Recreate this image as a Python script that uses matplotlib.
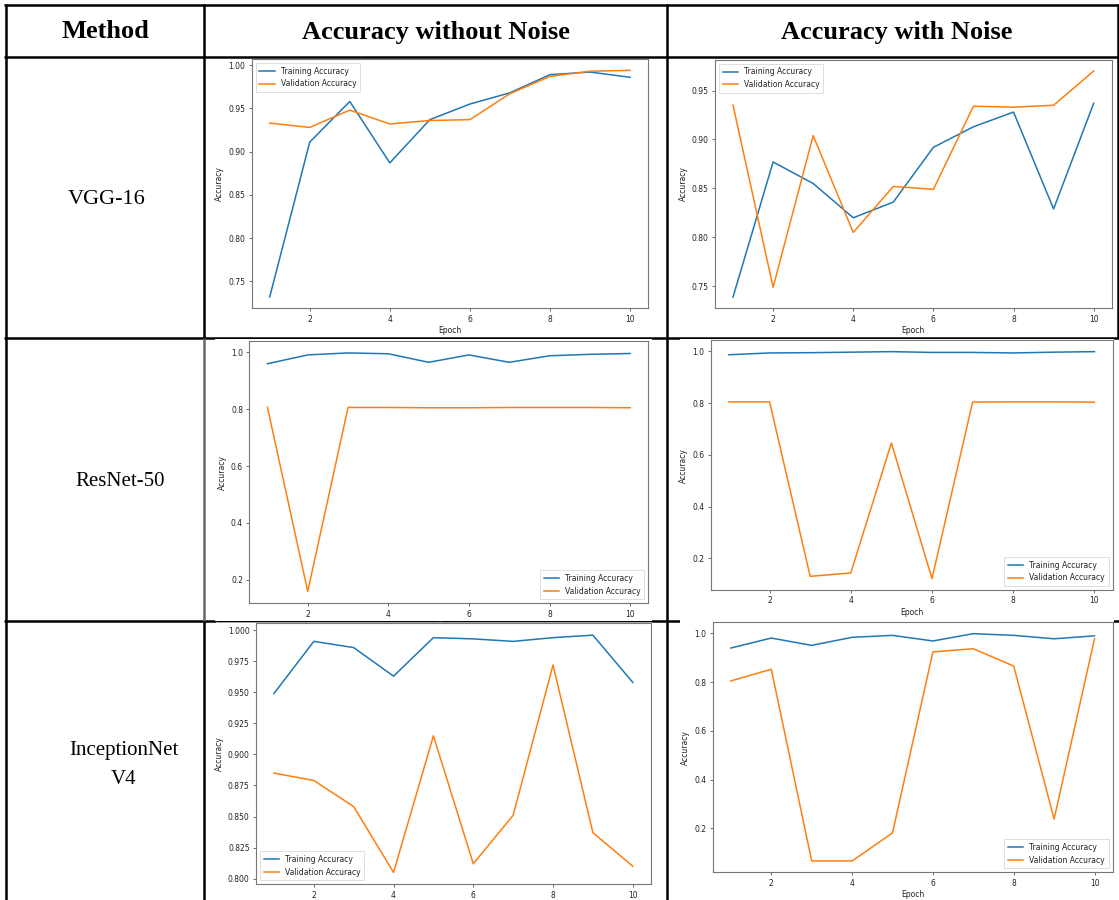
import matplotlib
matplotlib.use("Agg")
from matplotlib import pyplot as plt
from matplotlib.lines import Line2D
from matplotlib.patches import Rectangle

W, H = 1119, 900

epochs = list(range(1, 11))

# accuracy per epoch
vgg_clean_train = [0.732, 0.911, 0.958, 0.887, 0.937, 0.955, 0.968, 0.989, 0.992, 0.986]
vgg_clean_val = [0.933, 0.928, 0.948, 0.932, 0.936, 0.937, 0.967, 0.987, 0.993, 0.994]
vgg_noise_train = [0.739, 0.877, 0.855, 0.820, 0.836, 0.892, 0.913, 0.928, 0.829, 0.937]
vgg_noise_val = [0.935, 0.749, 0.904, 0.805, 0.852, 0.849, 0.934, 0.933, 0.935, 0.970]

resnet_clean_train = [0.960, 0.991, 0.998, 0.995, 0.965, 0.991, 0.965, 0.988, 0.993, 0.996]
resnet_clean_val = [0.807, 0.159, 0.806, 0.806, 0.805, 0.805, 0.806, 0.806, 0.806, 0.805]
resnet_noise_train = [0.987, 0.994, 0.995, 0.997, 0.999, 0.996, 0.996, 0.994, 0.997, 0.999]
resnet_noise_val = [0.805, 0.805, 0.131, 0.144, 0.646, 0.122, 0.804, 0.805, 0.805, 0.804]

incep_clean_train = [0.949, 0.991, 0.986, 0.963, 0.994, 0.993, 0.991, 0.994, 0.996, 0.958]
incep_clean_val = [0.885, 0.879, 0.858, 0.805, 0.915, 0.812, 0.851, 0.972, 0.837, 0.810]
incep_noise_train = [0.940, 0.981, 0.951, 0.984, 0.992, 0.969, 0.999, 0.992, 0.978, 0.990]
incep_noise_val = [0.805, 0.853, 0.066, 0.066, 0.181, 0.924, 0.937, 0.866, 0.238, 0.978]

xticks = [2, 4, 6, 8, 10]
yticks_vgg_clean = [0.75, 0.80, 0.85, 0.90, 0.95, 1.00]
yticks_vgg_noise = [0.75, 0.80, 0.85, 0.90, 0.95]
yticks_wide = [0.2, 0.4, 0.6, 0.8, 1.0]
yticks_incep_clean = [0.800, 0.825, 0.850, 0.875, 0.900, 0.925, 0.950, 0.975, 1.000]

headers = ["Method", "Accuracy without Noise", "Accuracy with Noise"]
methods = ["VGG-16", "ResNet-50", "InceptionNet", "V4"]


def fx(x):
    return x / W


def fy(y):
    return 1 - y / H


fig = plt.figure(figsize=(W / 100, H / 100), dpi=100)


def hline(y, x0, x1, z=1, color="black", lw=1.8):
    fig.add_artist(Line2D([fx(x0), fx(x1)], [fy(y), fy(y)], transform=fig.transFigure,
                          color=color, lw=lw, zorder=z, solid_capstyle="butt"))


def vline(x, y0, y1, z=1, color="black", lw=1.8):
    fig.add_artist(Line2D([fx(x), fx(x)], [fy(y0), fy(y1)], transform=fig.transFigure,
                          color=color, lw=lw, zorder=z, solid_capstyle="butt"))


def blank(x0, y0, x1, y1, z):
    # white background of a pasted screenshot
    fig.add_artist(Rectangle((fx(x0), fy(y1)), (x1 - x0) / W, (y1 - y0) / H,
                             transform=fig.transFigure, facecolor="white",
                             edgecolor="none", zorder=z))


# table grid
hline(5, 4, 1119)
hline(57, 4, 1119)
hline(338, 4, 1119)
hline(621, 4, 1119)
vline(5.5, 4, 900)
vline(204, 4, 338)
vline(204, 338, 621, color="#666")
vline(204, 621, 900)
vline(667, 4, 900)
vline(1118, 4, 338)

# header and method names
serif = "Liberation Serif"
fig.text(fx(105), fy(32), headers[0], ha="center", va="center", fontsize=19,
         fontweight="bold", family=serif)
fig.text(fx(436), fy(32), headers[1], ha="center", va="center", fontsize=19,
         fontweight="bold", family=serif)
fig.text(fx(897), fy(32), headers[2], ha="center", va="center", fontsize=19,
         fontweight="bold", family=serif)
fig.text(fx(107), fy(200), methods[0], ha="center", va="center", fontsize=16, family=serif)
fig.text(fx(120), fy(481), methods[1], ha="center", va="center", fontsize=15, family=serif)
fig.text(fx(124), fy(751), methods[2], ha="center", va="center", fontsize=15, family=serif)
fig.text(fx(124), fy(779), methods[3], ha="center", va="center", fontsize=15, family=serif)


def panel(box, z, train, val, yticks, loc, xlabel=True):
    left, top, right, bottom = box
    ax = fig.add_axes([fx(left), fy(bottom), (right - left) / W, (bottom - top) / H])
    ax.set_zorder(z)
    ax.plot(epochs, train, color="#1f77b4", lw=1.1, label="Training Accuracy")
    ax.plot(epochs, val, color="#ff7f0e", lw=1.1, label="Validation Accuracy")
    ax.set_xticks(xticks)
    ax.set_yticks(yticks)
    ax.tick_params(labelsize=5.5, length=2.5, width=0.6, pad=2, color="#555",
                   labelcolor="#222")
    for s in ax.spines.values():
        s.set_color("#777")
        s.set_linewidth(0.8)
    ax.set_ylabel("Accuracy", fontsize=5.5, color="#222", labelpad=3)
    if xlabel:
        ax.set_xlabel("Epoch", fontsize=5.5, color="#222", labelpad=2)
    leg = ax.legend(loc=loc, fontsize=5.5, handlelength=2.0, borderpad=0.5,
                    labelspacing=0.5, fancybox=False)
    leg.get_frame().set_edgecolor("#d0d0d0")
    leg.get_frame().set_linewidth(0.6)
    for t in leg.get_texts():
        t.set_color("#222")
    return ax


# row 1
panel((251.7, 59, 648, 308.3), 2, vgg_clean_train, vgg_clean_val, yticks_vgg_clean, "upper left")
panel((715, 59.7, 1111.7, 308.3), 2, vgg_noise_train, vgg_noise_val, yticks_vgg_noise, "upper left")

# row 2 screenshots sit on top of row 1
blank(215, 338.9, 652, 621, 3)
blank(680, 338.9, 1114, 621, 3)
panel((249.3, 341, 648.3, 603.3), 4, resnet_clean_train, resnet_clean_val, yticks_wide, "lower right")
panel((710.7, 340.3, 1112.7, 590), 4, resnet_noise_train, resnet_noise_val, yticks_wide, "lower right")

# row 3
blank(216, 621.9, 652, 900, 5)
blank(680, 620, 1114, 900, 5)
hline(621.5, 216, 652, z=5.5, color="#999", lw=0.6)
panel((256, 623.3, 650.7, 884.3), 6, incep_clean_train, incep_clean_val, yticks_incep_clean,
      "lower left", xlabel=False)
panel((712.7, 622.3, 1112.7, 872.3), 6, incep_noise_train, incep_noise_val, yticks_wide, "lower right")

fig.savefig("out.png", dpi=100)
